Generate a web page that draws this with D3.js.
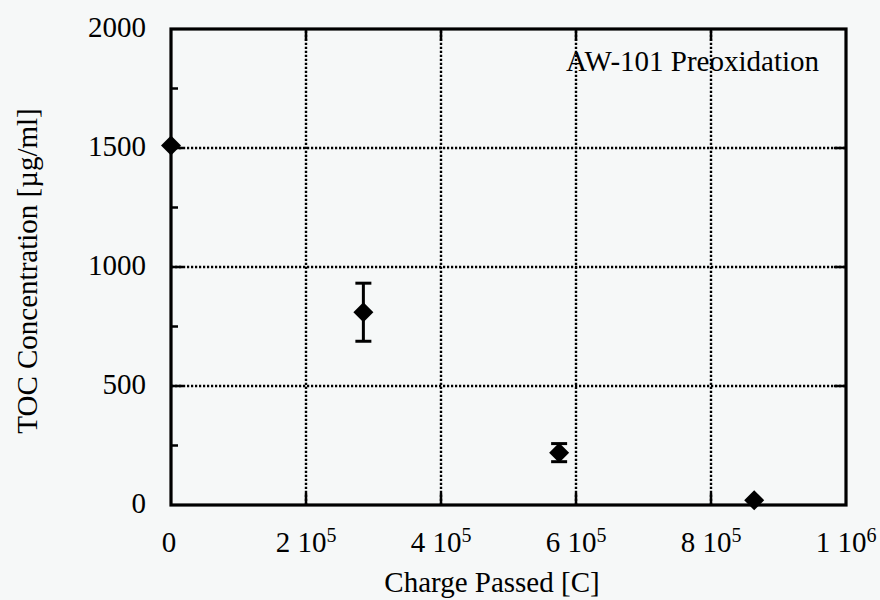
<!DOCTYPE html>
<html>
<head>
<meta charset="utf-8">
<script src="https://cdn.jsdelivr.net/npm/d3@7"></script>
<style>
  body { margin: 0; background: #f6f8f8; }
  text { font-family: "Liberation Serif", "Times New Roman", serif; fill: #000; }
</style>
</head>
<body>
<div id="chart"></div>
<script>
// TOC concentration vs charge passed
const charge = [0, 2.85e5, 5.75e5, 8.64e5];
const toc = [1510, 810, 220, 20];
const tocErr = [0, 122, 38, 0];

const xTicks = [0, 2e5, 4e5, 6e5, 8e5, 1e6];
const xTickMant = ["0", "2", "4", "6", "8", "1"];
const xTickExp = ["", "5", "5", "5", "5", "6"];
const yTicks = [0, 500, 1000, 1500, 2000];
const yMinor = [250, 750, 1250, 1750];

const width = 880, height = 600;
const margin = { left: 171, right: 34, top: 29, bottom: 95 };

const svg = d3.select("#chart").append("svg")
    .attr("width", width)
    .attr("height", height);

svg.append("rect").attr("width", width).attr("height", height).attr("fill", "#f6f8f8");

const x = d3.scaleLinear().domain([0, 1e6]).range([margin.left, width - margin.right]);
const y = d3.scaleLinear().domain([0, 2000]).range([height - margin.bottom, margin.top]);

// dotted grid
const grid = svg.append("g")
    .attr("stroke", "#000")
    .attr("stroke-width", 2.4)
    .attr("stroke-dasharray", "2.2,1.8");
grid.selectAll(".gx").data(xTicks.slice(1, -1)).enter().append("line")
    .attr("x1", d => x(d)).attr("x2", d => x(d))
    .attr("y1", y(0)).attr("y2", y(2000));
grid.selectAll(".gy").data(yTicks.slice(1, -1)).enter().append("line")
    .attr("x1", x(0)).attr("x2", x(1e6))
    .attr("y1", d => y(d)).attr("y2", d => y(d));

// inward ticks
const ticks = svg.append("g").attr("stroke", "#000").attr("stroke-width", 2.5);
xTicks.slice(1, -1).forEach(d => {
    ticks.append("line").attr("x1", x(d)).attr("x2", x(d)).attr("y1", y(0)).attr("y2", y(0) - 12);
    ticks.append("line").attr("x1", x(d)).attr("x2", x(d)).attr("y1", y(2000)).attr("y2", y(2000) + 12);
});
yTicks.slice(1, -1).forEach(d => {
    ticks.append("line").attr("x1", x(0)).attr("x2", x(0) + 12).attr("y1", y(d)).attr("y2", y(d));
    ticks.append("line").attr("x1", x(1e6)).attr("x2", x(1e6) - 12).attr("y1", y(d)).attr("y2", y(d));
});
yMinor.forEach(d => {
    ticks.append("line").attr("x1", x(0)).attr("x2", x(0) + 7).attr("y1", y(d)).attr("y2", y(d));
});

// frame
svg.append("rect")
    .attr("x", x(0)).attr("y", y(2000))
    .attr("width", x(1e6) - x(0)).attr("height", y(0) - y(2000))
    .attr("fill", "none").attr("stroke", "#000").attr("stroke-width", 3.2);

// tick labels
const xl = svg.append("g").attr("font-size", 29).attr("text-anchor", "middle");
xTicks.forEach((d, i) => {
    const t = xl.append("text").attr("x", x(d) + (xTickExp[i] ? 0 : -2)).attr("y", 552);
    if (xTickExp[i]) {
        t.append("tspan").text(xTickMant[i] + " 10");
        t.append("tspan").attr("dy", -10).attr("font-size", 20).text(xTickExp[i]);
    } else {
        t.text(xTickMant[i]);
    }
});
svg.append("g").attr("font-size", 29).attr("text-anchor", "end")
    .selectAll("text").data(yTicks).enter().append("text")
    .attr("x", 146).attr("y", d => y(d) + 8)
    .text(d => d);

// axis titles
svg.append("text").attr("x", 492).attr("y", 592)
    .attr("text-anchor", "middle").attr("font-size", 29)
    .text("Charge Passed [C]");
svg.append("text")
    .attr("transform", "translate(37,271) rotate(-90)")
    .attr("text-anchor", "middle").attr("font-size", 29)
    .text("TOC Concentration [µg/ml]");

// annotation
svg.append("text").attr("x", 819).attr("y", 71)
    .attr("text-anchor", "end").attr("font-size", 29)
    .text("AW-101 Preoxidation");

// error bars
const pts = charge.map((c, i) => ({ c, v: toc[i], e: tocErr[i] }));
const eb = svg.append("g").attr("stroke", "#000").attr("stroke-width", 3);
pts.filter(d => d.e > 0).forEach(d => {
    eb.append("line").attr("x1", x(d.c)).attr("x2", x(d.c)).attr("y1", y(d.v - d.e)).attr("y2", y(d.v + d.e));
    eb.append("line").attr("x1", x(d.c) - 8).attr("x2", x(d.c) + 8).attr("y1", y(d.v - d.e)).attr("y2", y(d.v - d.e));
    eb.append("line").attr("x1", x(d.c) - 8).attr("x2", x(d.c) + 8).attr("y1", y(d.v + d.e)).attr("y2", y(d.v + d.e));
});

// diamonds
svg.append("g").selectAll("path").data(pts).enter().append("path")
    .attr("d", "M0,-10L10,0L0,10L-10,0Z")
    .attr("transform", d => `translate(${x(d.c)},${y(d.v)})`)
    .attr("fill", "#000");
</script>
</body>
</html>
